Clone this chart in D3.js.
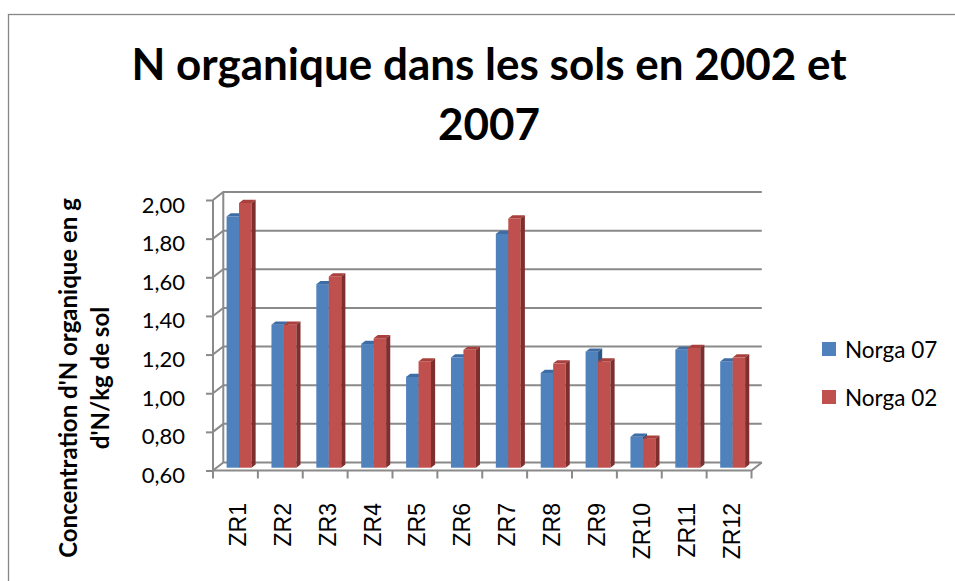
<!DOCTYPE html>
<html lang="fr">
<head>
<meta charset="UTF-8">
<title>N organique</title>
<script src="https://d3js.org/d3.v7.min.js"></script>
<style>
  body { margin: 0; background: #fff; }
  svg text { font-family: Lato, "Open Sans", "DejaVu Sans", sans-serif; fill: #000; }
</style>
</head>
<body>
<div id="chart"></div>
<script>
  // data
  var zones = ["ZR1","ZR2","ZR3","ZR4","ZR5","ZR6","ZR7","ZR8","ZR9","ZR10","ZR11","ZR12"];
  var seriesNames = ["Norga 07", "Norga 02"];
  var norga07 = [1.90, 1.34, 1.55, 1.24, 1.07, 1.17, 1.81, 1.09, 1.20, 0.76, 1.21, 1.15];
  var norga02 = [1.97, 1.34, 1.59, 1.27, 1.15, 1.21, 1.89, 1.14, 1.15, 0.75, 1.22, 1.17];
  var yTicks = [0.6, 0.8, 1.0, 1.2, 1.4, 1.6, 1.8, 2.0];

  var width = 955, height = 581;
  var DX = 10.3, DY = -8;   // 3d depth offset of the back wall

  var colors = [
    {front: "#4F81BD", top: "#3E6DA6", side: "#2E5583"},
    {front: "#C0504D", top: "#A9403D", side: "#7E2E2C"}
  ];

  var svg = d3.select("#chart").append("svg")
      .attr("width", width).attr("height", height);

  // chart border
  svg.append("rect")
      .attr("x", 8.5).attr("y", 14.5)
      .attr("width", 1000).attr("height", 1000)
      .attr("fill", "none").attr("stroke", "#878787").attr("stroke-width", 1.3);

  // title
  var title = svg.append("text")
      .attr("text-anchor", "middle")
      .style("font-weight", "bold").style("font-size", "44px");
  title.append("tspan").attr("x", 489).attr("y", 80).text("N organique dans les sols en 2002 et");
  title.append("tspan").attr("x", 489).attr("y", 140).text("2007");

  var yScale = d3.scaleLinear().domain([0.6, 2.0]).range([470.5, 200]);
  var xScale = d3.scaleBand().domain(zones).range([213, 751.5]);
  var xSub = d3.scaleBand().domain(seriesNames).range([0, xScale.bandwidth()]).paddingOuter(0.8);

  var grid = svg.append("g").attr("fill", "none").attr("stroke", "#8a8a8a").attr("stroke-width", 2);

  // gridlines on the back wall, joined to the front axis
  yTicks.forEach(function(v) {
    var y = yScale(v);
    grid.append("polyline")
        .attr("points", [[213, y], [213 + DX, y + DY], [751.5 + DX, y + DY]].join(" "));
  });
  // back wall left edge
  grid.append("line")
      .attr("x1", 213 + DX).attr("x2", 213 + DX)
      .attr("y1", yScale(2.0) + DY).attr("y2", yScale(0.6) + DY);
  // floor front edge + right edge
  grid.append("polyline")
      .attr("points", [[213, yScale(0.6)], [751.5, yScale(0.6)], [751.5 + DX, yScale(0.6) + DY]].join(" "));

  // axes
  var yAxis = d3.axisLeft(yScale).tickValues(yTicks).tickSize(7).tickFormat("");
  var yg = svg.append("g").attr("transform", "translate(213,0)").call(yAxis);
  yg.select(".domain").remove();
  yg.append("line").attr("x1", 0).attr("x2", 0).attr("y1", yScale(2.0)).attr("y2", yScale(0.6));
  yg.selectAll("line").attr("stroke", "#8a8a8a").attr("stroke-width", 2);

  svg.append("g").selectAll("text").data(yTicks).join("text")
      .attr("x", 185).attr("y", function(d) { return yScale(d) + 4; })
      .attr("text-anchor", "end").attr("dominant-baseline", "central")
      .style("font-size", "22px")
      .text(function(d) { return d3.format(".2f")(d).replace(".", ","); });

  var xBounds = zones.map(function(z) { return xScale(z); }).concat([751.5]);
  svg.append("g").selectAll("line").data(xBounds).join("line")
      .attr("x1", function(d) { return d; }).attr("x2", function(d) { return d; })
      .attr("y1", yScale(0.6)).attr("y2", yScale(0.6) + 8)
      .attr("stroke", "#8a8a8a").attr("stroke-width", 2);

  svg.append("g").selectAll("text").data(zones).join("text")
      .attr("transform", function(d) {
        return "translate(" + (xScale(d) + xScale.bandwidth() / 2 + 2.5) + ",503) rotate(-90)";
      })
      .attr("text-anchor", "end").attr("dominant-baseline", "central")
      .style("font-family", "'Liberation Sans', Arial, sans-serif")
      .style("font-size", "23px")
      .text(function(d) { return d; });

  // bars
  var z0 = 0.35, depth = 0.4;
  var bdx = DX * depth, bdy = DY * depth;
  var barsG = svg.append("g");
  var allSeries = [norga07, norga02];
  zones.forEach(function(z, i) {
    allSeries.forEach(function(vals, s) {
      var x = xScale(z) + xSub(seriesNames[s]) + DX * z0;
      var w = xSub.bandwidth();
      var yb = yScale(0.6) + DY * z0;
      var yt = yScale(vals[i]) + DY * z0;
      var c = colors[s];
      barsG.append("rect").attr("x", x).attr("y", yt).attr("width", w).attr("height", yb - yt).attr("fill", c.front);
      barsG.append("polygon")
          .attr("points", [[x, yt], [x + bdx, yt + bdy], [x + w + bdx, yt + bdy], [x + w, yt]].join(" "))
          .attr("fill", c.top);
      barsG.append("polygon")
          .attr("points", [[x + w, yt], [x + w + bdx, yt + bdy], [x + w + bdx, yb + bdy], [x + w, yb]].join(" "))
          .attr("fill", c.side);
    });
  });

  // y axis title
  var yTitle = svg.append("text")
      .attr("transform", "translate(0,378) rotate(-90)")
      .attr("text-anchor", "middle")
      .style("font-weight", "bold").style("font-size", "24px");
  yTitle.append("tspan").attr("x", 0).attr("y", 77).text("Concentration d'N organique en g");
  yTitle.append("tspan").attr("x", 0).attr("y", 109).text("d'N/kg de sol");

  // legend
  var legend = svg.append("g");
  seriesNames.forEach(function(name, s) {
    var cy = 349 + s * 48;
    legend.append("rect").attr("x", 822).attr("y", cy - 7).attr("width", 14).attr("height", 14)
        .attr("fill", colors[s].front);
    legend.append("text").attr("x", 845).attr("y", cy).attr("dominant-baseline", "central")
        .style("font-size", "22.5px").text(name);
  });
</script>
</body>
</html>
